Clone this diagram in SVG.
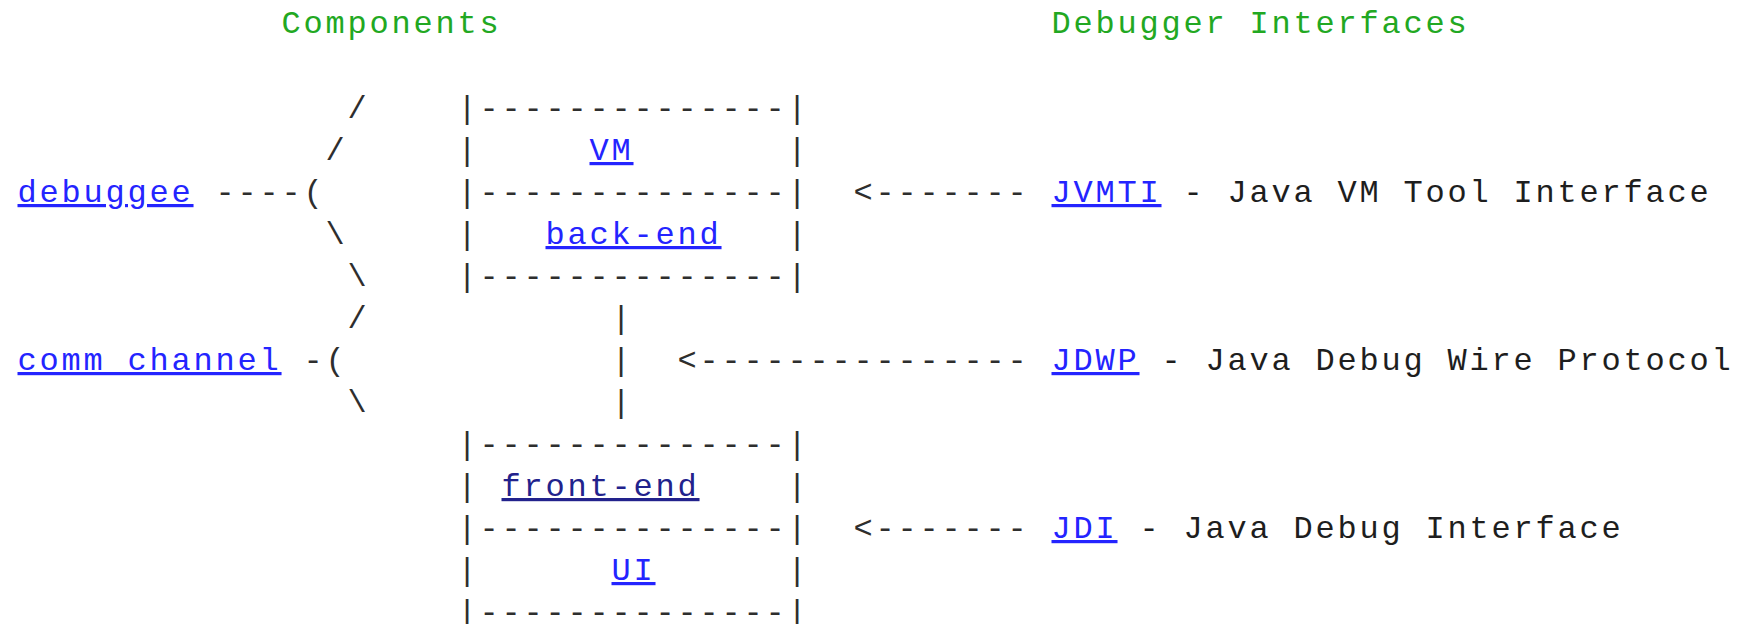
<svg xmlns="http://www.w3.org/2000/svg" width="1742" height="624" viewBox="0 0 1742 624">
  <style>
    text { font-family: "Liberation Mono", "Courier New", monospace; font-size: 32px; letter-spacing: 2.8px; white-space: pre; }
    .ink { fill: #1e1e1e; }
    .rule { fill: #2e2e2e; }
    .title { fill: #22a822; }
    .link { fill: #2424ff; text-decoration: underline; }
    .visited { fill: #22228c; text-decoration: underline; }
  </style>
  <rect width="1742" height="624" fill="#ffffff"/>

  <!-- column headings -->
  <g id="headings">
    <text class="title" x="281.5" y="33">Components</text>
    <text class="title" x="1051.5" y="33">Debugger Interfaces</text>
  </g>

  <!-- left-hand component labels -->
  <g id="node-debuggee">
    <text class="link" x="17.5" y="202">debuggee</text>
  </g>
  <g id="node-comm-channel">
    <text class="link" x="17.5" y="370">comm channel</text>
  </g>

  <!-- target VM stack -->
  <g id="node-vm">
    <text class="rule" x="457.5" y="118">|--------------|</text>
    <text class="rule" x="457.5" y="160">|</text>
    <text class="link" x="589.5" y="160">VM</text>
    <text class="rule" x="787.5" y="160">|</text>
    <text class="rule" x="457.5" y="202">|--------------|</text>
  </g>
  <g id="node-back-end">
    <text class="rule" x="457.5" y="244">|</text>
    <text class="link" x="545.5" y="244">back-end</text>
    <text class="rule" x="787.5" y="244">|</text>
    <text class="rule" x="457.5" y="286">|--------------|</text>
  </g>

  <!-- debugger stack -->
  <g id="node-front-end">
    <text class="rule" x="457.5" y="454">|--------------|</text>
    <text class="rule" x="457.5" y="496">|</text>
    <text class="visited" x="501.5" y="496">front-end</text>
    <text class="rule" x="787.5" y="496">|</text>
    <text class="rule" x="457.5" y="538">|--------------|</text>
  </g>
  <g id="node-ui">
    <text class="rule" x="457.5" y="580">|</text>
    <text class="link" x="611.5" y="580">UI</text>
    <text class="rule" x="787.5" y="580">|</text>
    <text class="rule" x="457.5" y="622">|--------------|</text>
  </g>

  <!-- interface descriptions -->
  <g id="node-jvmti">
    <text class="link" x="1051.5" y="202">JVMTI</text>
    <text class="ink" x="1183.5" y="202">- Java VM Tool Interface</text>
  </g>
  <g id="node-jdwp">
    <text class="link" x="1051.5" y="370">JDWP</text>
    <text class="ink" x="1161.5" y="370">- Java Debug Wire Protocol</text>
  </g>
  <g id="node-jdi">
    <text class="link" x="1051.5" y="538">JDI</text>
    <text class="ink" x="1139.5" y="538">- Java Debug Interface</text>
  </g>

  <!-- connectors: braces, wire and interface arrows -->
  <g id="connectors">
    <text class="rule" x="347.5" y="118">/</text>
    <text class="rule" x="325.5" y="160">/</text>
    <text class="rule" x="215.5" y="202">----(</text>
    <text class="rule" x="325.5" y="244">\</text>
    <text class="rule" x="347.5" y="286">\</text>
    <text class="rule" x="347.5" y="328">/</text>
    <text class="rule" x="303.5" y="370">-(</text>
    <text class="rule" x="347.5" y="412">\</text>

    <text class="rule" x="611.5" y="328">|</text>
    <text class="rule" x="611.5" y="370">|</text>
    <text class="rule" x="611.5" y="412">|</text>

    <text class="rule" x="853.5" y="202">&lt;-------</text>
    <text class="rule" x="677.5" y="370">&lt;---------------</text>
    <text class="rule" x="853.5" y="538">&lt;-------</text>
  </g>
</svg>
